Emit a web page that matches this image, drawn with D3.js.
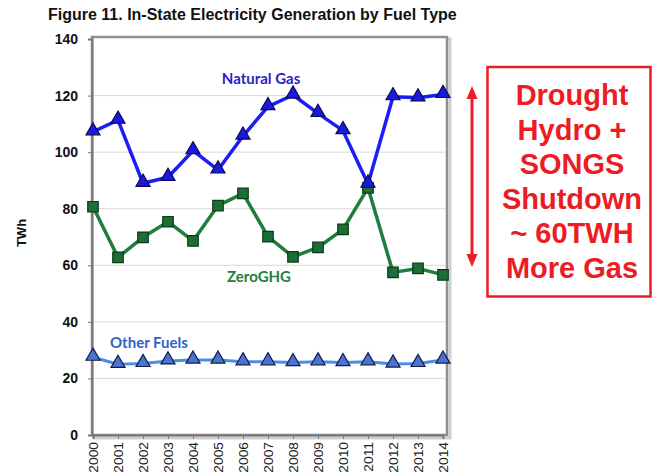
<!DOCTYPE html>
<html>
<head>
<meta charset="utf-8">
<script src="https://cdn.jsdelivr.net/npm/d3@7"></script>
<style>
  html, body { margin: 0; padding: 0; background: #ffffff; }
  svg { display: block; }
</style>
</head>
<body>
<svg id="chart" width="653" height="475"></svg>
<script>
// In-state electricity generation by fuel type (TWh), 2000–2014
const years = ["2000","2001","2002","2003","2004","2005","2006","2007","2008","2009","2010","2011","2012","2013","2014"];
const naturalGas = [107.2, 111.3, 89.0, 91.1, 100.5, 93.7, 105.7, 116.1, 120.2, 113.7, 107.6, 88.7, 119.6, 119.2, 120.4];
const zeroGHG    = [80.7, 62.8, 69.9, 75.4, 68.6, 81.1, 85.4, 70.1, 63.0, 66.3, 72.7, 87.4, 57.5, 58.9, 56.6];
const otherFuels = [27.5, 25.0, 25.3, 26.2, 26.5, 26.5, 25.9, 25.9, 25.6, 25.9, 25.6, 25.9, 25.1, 25.3, 26.5];
const yTicks = [0, 20, 40, 60, 80, 100, 120, 140];
const gridValues = [20, 40, 60, 80, 100, 120];
const annotationLines = ["Drought", "Hydro +", "SONGS", "Shutdown", "~ 60TWH", "More Gas"];

const svg = d3.select("#chart");

const x = d3.scalePoint().domain(years).range([93, 443]);
const y = d3.scaleLinear().domain([0, 140]).range([435, 39]);

// Title
svg.append("text")
  .attr("x", 48).attr("y", 20)
  .attr("font-family", "'Liberation Sans Narrow', 'Liberation Sans', Arial, sans-serif")
  .attr("font-weight", "bold").attr("font-size", 16)
  .attr("fill", "#111")
  .text("Figure 11. In-State Electricity Generation by Fuel Type");

// Plot frame with soft shadow
svg.append("rect")
  .attr("x", 94).attr("y", 39).attr("width", 356).attr("height", 399)
  .attr("fill", "none").attr("stroke", "#cfcfcf").attr("stroke-width", 3);
svg.append("rect")
  .attr("x", 92).attr("y", 37).attr("width", 355).attr("height", 398)
  .attr("fill", "#ffffff").attr("stroke", "#8f8f8f").attr("stroke-width", 2.5);

// Gridlines
svg.append("g").selectAll("line").data(gridValues).join("line")
  .attr("x1", 93).attr("x2", 446)
  .attr("y1", d => y(d)).attr("y2", d => y(d))
  .attr("stroke", "#d8d8d8").attr("stroke-width", 1);

// Y axis
const yAxis = d3.axisLeft(y).tickValues(yTicks).tickSize(4).tickPadding(10);
const gy = svg.append("g").attr("transform", "translate(92,0)").call(yAxis);
gy.select(".domain").attr("stroke", "#777").attr("stroke-width", 2);
gy.selectAll(".tick line").attr("stroke", "#777");
gy.selectAll(".tick text")
  .attr("font-family", "'Liberation Sans', Arial, sans-serif")
  .attr("font-weight", "bold").attr("font-size", 14).attr("fill", "#111");

// X axis (year labels run upward, slightly stretched along their length)
const xAxis = d3.axisBottom(x).tickSize(4).tickPadding(6);
const gx = svg.append("g").attr("transform", "translate(0,435)").call(xAxis);
gx.select(".domain").attr("stroke", "#777").attr("stroke-width", 2);
gx.selectAll(".tick line").attr("stroke", "#777");
gx.selectAll(".tick text")
  .attr("font-family", "'Liberation Sans', Arial, sans-serif")
  .attr("font-size", 12).attr("fill", "#222")
  .attr("text-anchor", "end")
  .attr("transform", "translate(4.5,7) rotate(-90) scale(1.15,1)")
  .attr("dy", "0")
  .attr("x", 0).attr("y", 0);

// Y axis title
svg.append("text")
  .attr("transform", "translate(26,233) rotate(-90)")
  .attr("text-anchor", "middle")
  .attr("font-family", "'Liberation Sans', Arial, sans-serif")
  .attr("font-weight", "bold").attr("font-size", 13).attr("fill", "#111")
  .text("TWh");

// Series
const series = [
  { name: "Other Fuels", values: otherFuels, line: "#4b8fe2", fill: "#4a74cf", stroke: "#121a4a", marker: "triangle", width: 3 },
  { name: "ZeroGHG", values: zeroGHG, line: "#1f7d3d", fill: "#1d6e36", stroke: "#0b3a1b", marker: "square", width: 3.5 },
  { name: "Natural Gas", values: naturalGas, line: "#1c1cf5", fill: "#1a1adf", stroke: "#0a0a55", marker: "triangle", width: 3.5 }
];

const lineGen = d3.line().x((d, i) => x(years[i])).y(d => y(d));

series.forEach(s => {
  const g = svg.append("g");
  g.append("path")
    .attr("d", lineGen(s.values))
    .attr("fill", "none").attr("stroke", s.line)
    .attr("stroke-width", s.width).attr("stroke-linejoin", "round");
  const sym = d3.symbol()
    .type(s.marker === "square" ? d3.symbolSquare : d3.symbolTriangle)
    .size(s.marker === "square" ? 110 : 85);
  g.selectAll("path.m").data(s.values).join("path")
    .attr("class", "m")
    .attr("d", sym)
    .attr("transform", (d, i) => `translate(${x(years[i])},${y(d) + (s.marker === "square" ? 0 : -1)})`)
    .attr("fill", s.fill).attr("stroke", s.stroke).attr("stroke-width", 1.2);
});

// Series labels
const labelFont = "Lato, 'Open Sans', sans-serif";
svg.append("text").attr("x", 261).attr("y", 84).attr("text-anchor", "middle")
  .attr("font-family", labelFont).attr("font-weight", "bold").attr("font-size", 15)
  .attr("fill", "#2a22c4").text("Natural Gas");
svg.append("text").attr("x", 259).attr("y", 282).attr("text-anchor", "middle")
  .attr("font-family", labelFont).attr("font-weight", "bold").attr("font-size", 15)
  .attr("fill", "#1f8040").text("ZeroGHG");
svg.append("text").attr("x", 110).attr("y", 348).attr("text-anchor", "start")
  .attr("font-family", labelFont).attr("font-weight", "bold").attr("font-size", 15)
  .attr("fill", "#2f62c8").text("Other Fuels");

// Double-headed arrow
const red = "#ec1c24";
svg.append("line").attr("x1", 472).attr("x2", 472).attr("y1", 96).attr("y2", 257)
  .attr("stroke", red).attr("stroke-width", 3);
svg.append("path").attr("d", "M472,86 L466.5,99 L477.5,99 Z").attr("fill", red);
svg.append("path").attr("d", "M472,267 L466.5,254 L477.5,254 Z").attr("fill", red);

// Annotation box
svg.append("rect").attr("x", 487.5).attr("y", 67).attr("width", 163).attr("height", 229.5)
  .attr("fill", "#ffffff").attr("stroke", red).attr("stroke-width", 2.5);
svg.append("g").selectAll("text").data(annotationLines).join("text")
  .attr("x", 572).attr("y", (d, i) => 105 + i * 34.6)
  .attr("text-anchor", "middle")
  .attr("font-family", "'Liberation Sans', Arial, sans-serif")
  .attr("font-weight", "bold").attr("font-size", 29)
  .attr("fill", red)
  .text(d => d);
</script>
</body>
</html>
